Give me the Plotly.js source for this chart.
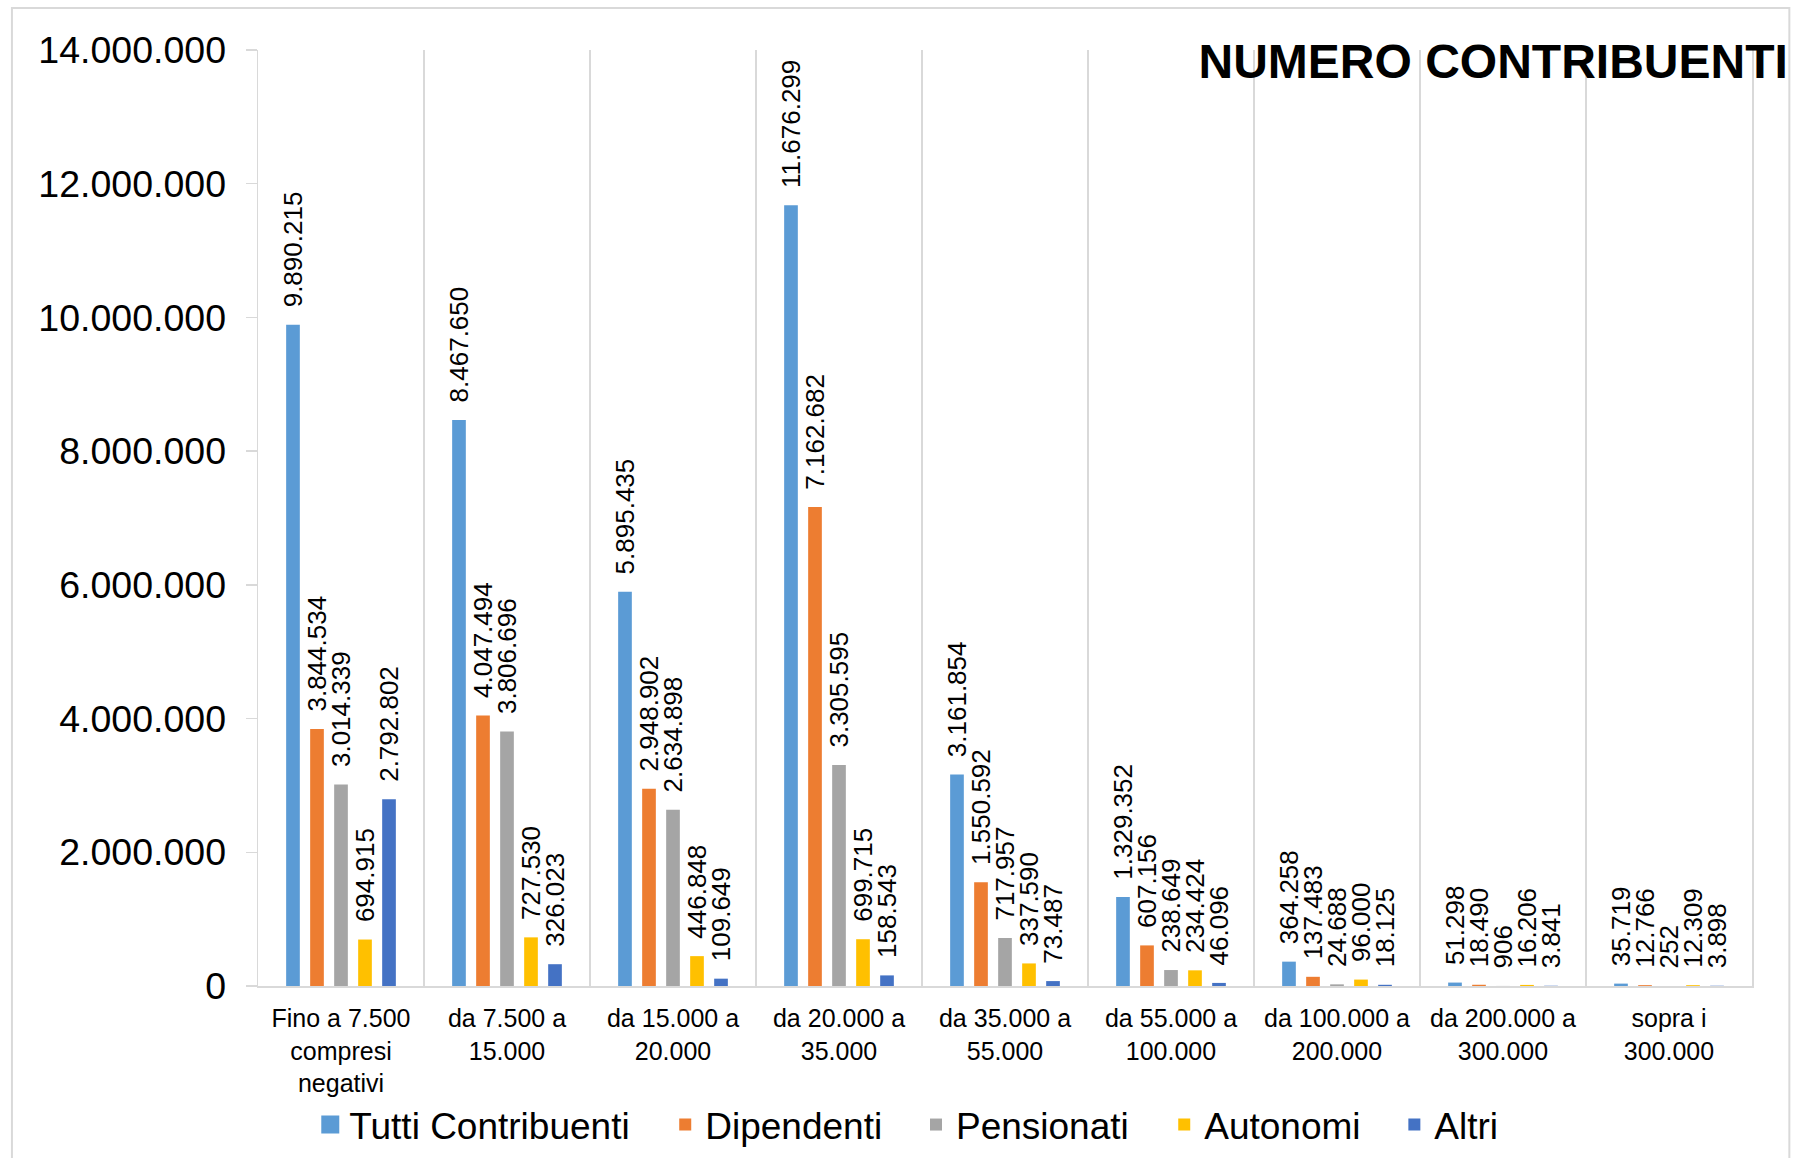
<!DOCTYPE html>
<html>
<head>
<meta charset="utf-8">
<script src="https://cdn.plot.ly/plotly-3.0.1.min.js"></script>
<style>
  html, body { margin: 0; padding: 0; background: #ffffff; }
  #chart { width: 1795px; height: 1158px; }
</style>
</head>
<body>
<div id="chart"></div>
<script>
// ---- Data ----
const categories = [
  "Fino a 7.500<br>compresi<br>negativi",
  "da 7.500 a<br>15.000",
  "da 15.000 a<br>20.000",
  "da 20.000 a<br>35.000",
  "da 35.000 a<br>55.000",
  "da 55.000 a<br>100.000",
  "da 100.000 a<br>200.000",
  "da 200.000 a<br>300.000",
  "sopra i<br>300.000"
];
const seriesNames = ["Tutti Contribuenti", "Dipendenti", "Pensionati", "Autonomi", "Altri"];
const tuttiContribuenti = [9890215, 8467650, 5895435, 11676299, 3161854, 1329352, 364258, 51298, 35719];
const dipendenti        = [3844534, 4047494, 2948902, 7162682, 1550592, 607156, 137483, 18490, 12766];
const pensionati        = [3014339, 3806696, 2634898, 3305595, 717957, 238649, 24688, 906, 252];
const autonomi          = [694915, 727530, 446848, 699715, 337590, 234424, 96000, 16206, 12309];
const altri             = [2792802, 326023, 109649, 158543, 73487, 46096, 18125, 3841, 3898];
const yTickVals = [0, 2000000, 4000000, 6000000, 8000000, 10000000, 12000000, 14000000];
const chartTitle = "NUMERO CONTRIBUENTI";

// ---- Styles ----
const colors = ["#5B9BD5", "#ED7D31", "#A5A5A5", "#FFC000", "#4472C4"];
const FONT = "Liberation Sans, Arial, sans-serif";
// left edge (container fraction) of each legend entry
const legendX = [0.1723, 0.3706, 0.5103, 0.6486, 0.7768];
const legendIds = ["legend", "legend2", "legend3", "legend4", "legend5"];
const SWATCH = 18, SWATCH_GAP = 10;

function fmt(v) {
  return String(v).replace(/\B(?=(\d{3})+(?!\d))/g, ".");
}

const allSeries = [tuttiContribuenti, dipendenti, pensionati, autonomi, altri];
const traces = allSeries.map((vals, i) => ({
  type: "bar",
  name: seriesNames[i],
  legend: legendIds[i],
  x: categories,
  y: vals,
  text: vals.map(v => "\u00A0\u00A0" + fmt(v)),
  textposition: "outside",
  textangle: -90,
  constraintext: "none",
  cliponaxis: false,
  textfont: { family: FONT, size: 26, color: "#000000" },
  outsidetextfont: { family: FONT, size: 26, color: "#000000" },
  marker: { color: colors[i] },
  hoverinfo: "x+y"
}));

const layout = {
  width: 1795,
  height: 1158,
  paper_bgcolor: "#ffffff",
  plot_bgcolor: "#ffffff",
  separators: ",.",
  font: { family: FONT, color: "#000000" },
  margin: { l: 258, r: 43, t: 50, b: 172, pad: 0 },
  barmode: "group",
  bargap: 0.277,
  bargroupgap: 0.43,
  showlegend: true,
  title: {
    text: "<b>" + chartTitle + "</b>",
    font: { family: FONT, size: 48, color: "#000000" },
    xref: "container",
    yref: "container",
    x: 0.996,
    xanchor: "right",
    y: 0.947,
    yanchor: "middle"
  },
  xaxis: {
    type: "category",
    range: [-0.5, 8.5],
    tickson: "boundaries",
    showgrid: true,
    gridcolor: "#d9d9d9",
    gridwidth: 1.5,
    showline: true,
    linecolor: "#d9d9d9",
    linewidth: 2,
    ticks: "",
    ticklabelstandoff: 9,
    tickfont: { family: FONT, size: 25, color: "#000000" },
    fixedrange: true
  },
  yaxis: {
    range: [0, 14000000],
    tickvals: yTickVals,
    tickformat: ",",
    showgrid: false,
    zeroline: false,
    showline: true,
    mirror: true,
    linecolor: "#d9d9d9",
    linewidth: 1.5,
    ticks: "outside",
    ticklen: 11,
    tickcolor: "#d9d9d9",
    tickwidth: 1.5,
    ticklabelstandoff: 12,
    tickfont: { family: FONT, size: 37.5, color: "#000000" },
    fixedrange: true
  },
  shapes: [{
    type: "rect",
    xref: "paper",
    yref: "paper",
    x0: -0.1647,
    x1: 1.0250,
    y0: -0.19,
    y1: 1.0450,
    line: { color: "#d9d9d9", width: 2 },
    fillcolor: "rgba(0,0,0,0)",
    layer: "below"
  }]
};

legendIds.forEach((id, i) => {
  layout[id] = {
    orientation: "h",
    xref: "container",
    yref: "container",
    x: legendX[i],
    xanchor: "left",
    y: 0.0285,
    yanchor: "middle",
    font: { family: FONT, size: 37, color: "#000000" },
    bgcolor: "rgba(0,0,0,0)"
  };
});

const gd = document.getElementById("chart");
Plotly.newPlot(gd, traces, layout, { displayModeBar: false, staticPlot: true }).then(() => {
  // enlarge legend swatches to square blocks placed just before the text
  gd.querySelectorAll(".legendpoints path").forEach(p => {
    const item = p.closest("g.traces");
    if (!item) return;
    const t = item.querySelector("text.legendtext");
    if (!t) return;
    const ctm = p.getScreenCTM();
    const pr = p.getBoundingClientRect();
    const tr = t.getBoundingClientRect();
    const x0 = tr.left - SWATCH_GAP - SWATCH - ctm.e;
    const yc = (pr.top + pr.bottom) / 2 - ctm.f;
    p.setAttribute("d", `M${x0},${yc - SWATCH / 2}h${SWATCH}v${SWATCH}h${-SWATCH}Z`);
  });
});
</script>
</body>
</html>
